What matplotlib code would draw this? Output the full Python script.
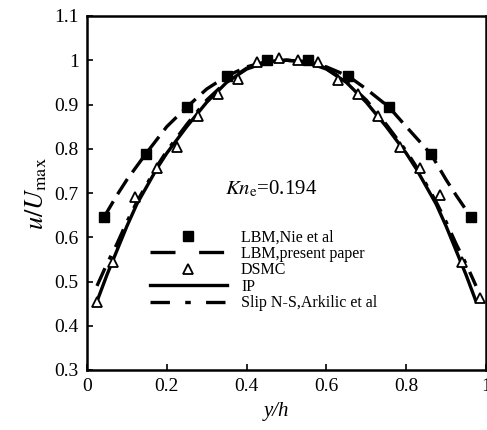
import matplotlib
matplotlib.use("Agg")
import matplotlib.pyplot as plt
from matplotlib.lines import Line2D

plt.rcParams['font.family'] = ['Liberation Serif', 'DejaVu Serif']
plt.rcParams['mathtext.fontset'] = 'stix'
plt.rcParams['lines.scale_dashes'] = False

# LBM, Nie et al (filled squares)
nie_x = [0.043, 0.147, 0.25, 0.35, 0.45, 0.554, 0.655, 0.757, 0.862, 0.962]
nie_y = [0.646, 0.788, 0.894, 0.964, 1.0, 1.0, 0.964, 0.894, 0.788, 0.646]

# LBM, present paper (dashed)
lbm_x = [0.043, 0.075, 0.1, 0.147, 0.2, 0.25, 0.3, 0.35, 0.4, 0.45, 0.5,
         0.554, 0.6, 0.655, 0.7, 0.757, 0.8, 0.862, 0.9, 0.925, 0.962]
lbm_y = [0.646, 0.695, 0.73, 0.788, 0.85, 0.894, 0.935, 0.964, 0.985, 0.997, 1.0,
         0.997, 0.985, 0.964, 0.935, 0.894, 0.85, 0.788, 0.73, 0.695, 0.646]

# DSMC (open triangles)
dsmc_x = [0.024, 0.066, 0.12, 0.175, 0.225, 0.279, 0.329, 0.379, 0.425, 0.48,
          0.53, 0.58, 0.63, 0.68, 0.73, 0.784, 0.835, 0.885, 0.939, 0.985]
dsmc_y = [0.454, 0.545, 0.692, 0.756, 0.805, 0.873, 0.924, 0.958, 0.997, 1.005,
          1.0, 0.996, 0.955, 0.924, 0.873, 0.805, 0.756, 0.695, 0.545, 0.463]

# IP (solid) and Slip N-S (dash-dot)
curve_x = [0.025, 0.05, 0.075, 0.1, 0.125, 0.15, 0.175, 0.2, 0.25, 0.3, 0.35,
           0.4, 0.45, 0.5, 0.55, 0.6, 0.65, 0.7, 0.75, 0.8, 0.825, 0.85,
           0.875, 0.9, 0.925, 0.95, 0.975]
ip_y = [0.455, 0.515, 0.57, 0.625, 0.675, 0.715, 0.755, 0.79, 0.85, 0.905, 0.95,
        0.98, 0.996, 1.0, 0.996, 0.98, 0.95, 0.905, 0.85, 0.79, 0.755, 0.715,
        0.675, 0.625, 0.57, 0.515, 0.455]
slip_y = [0.49, 0.54, 0.585, 0.635, 0.68, 0.72, 0.76, 0.795, 0.855, 0.91, 0.952,
          0.982, 0.997, 1.0, 0.997, 0.982, 0.952, 0.91, 0.855, 0.795, 0.76, 0.72,
          0.68, 0.635, 0.585, 0.54, 0.49]

x_ticks = [0, 0.2, 0.4, 0.6, 0.8, 1]
x_tick_labels = ['0', '0.2', '0.4', '0.6', '0.8', '1']
y_ticks = [0.3, 0.4, 0.5, 0.6, 0.7, 0.8, 0.9, 1.0, 1.1]
y_tick_labels = ['0.3', '0.4', '0.5', '0.6', '0.7', '0.8', '0.9', '1', '1.1']

W, H = 487, 430
fig = plt.figure(figsize=(W / 100, H / 100), dpi=100)
ax = fig.add_axes([87 / W, 1 - 370 / H, 399 / W, 354 / H])

lw = 2.4
ax.plot(curve_x, ip_y, color='black', lw=lw, solid_capstyle='butt')
ax.plot(curve_x, slip_y, color='black', lw=lw, dashes=(14, 7, 3, 7))
ax.plot(lbm_x, lbm_y, color='black', lw=lw, dashes=(13, 6))
ax.plot(nie_x, nie_y, 's', color='black', ms=6.5)
ax.plot(dsmc_x, dsmc_y, '^', mfc='white', mec='black', mew=1.3, ms=7.5)

ax.set_xlim(0, 1)
ax.set_ylim(0.3, 1.1)
ax.set_xticks(x_ticks)
ax.set_xticklabels(x_tick_labels)
ax.set_yticks(y_ticks)
ax.set_yticklabels(y_tick_labels)
ax.tick_params(direction='in', length=4, width=1.2, labelsize=14, pad=6)
for s in ax.spines.values():
    s.set_linewidth(1.8)

ax.set_xlabel('y/h', fontsize=15, style='italic', labelpad=3)
ax.xaxis.set_label_coords(0.475, -0.09)
ax.set_ylabel(r'$u/U_{\rm max}$', fontsize=19, labelpad=4)

ax.text(0.346, 0.71, r'$Kn_{\rm e}$=0.194', fontsize=15, va='center', ha='left')

handles = [
    Line2D([], [], ls='none', marker='s', color='black', ms=6.5),
    Line2D([], [], color='black', lw=lw, dashes=(18, 17)),
    Line2D([], [], ls='none', marker='^', mfc='white', mec='black', mew=1.3, ms=7.5),
    Line2D([], [], color='black', lw=lw),
    Line2D([], [], color='black', lw=lw, dashes=(14, 11, 4, 11)),
]
labels = ['LBM,Nie et al', 'LBM,present paper', 'DSMC', 'IP', 'Slip N-S,Arkilic et al']
ax.legend(handles, labels, loc='upper left', bbox_to_anchor=(0.158, 0.397),
          frameon=False, fontsize=11.5, handlelength=4.8, handletextpad=0.9,
          labelspacing=0.03, borderpad=0, borderaxespad=0)

fig.savefig('out.png', dpi=100)
